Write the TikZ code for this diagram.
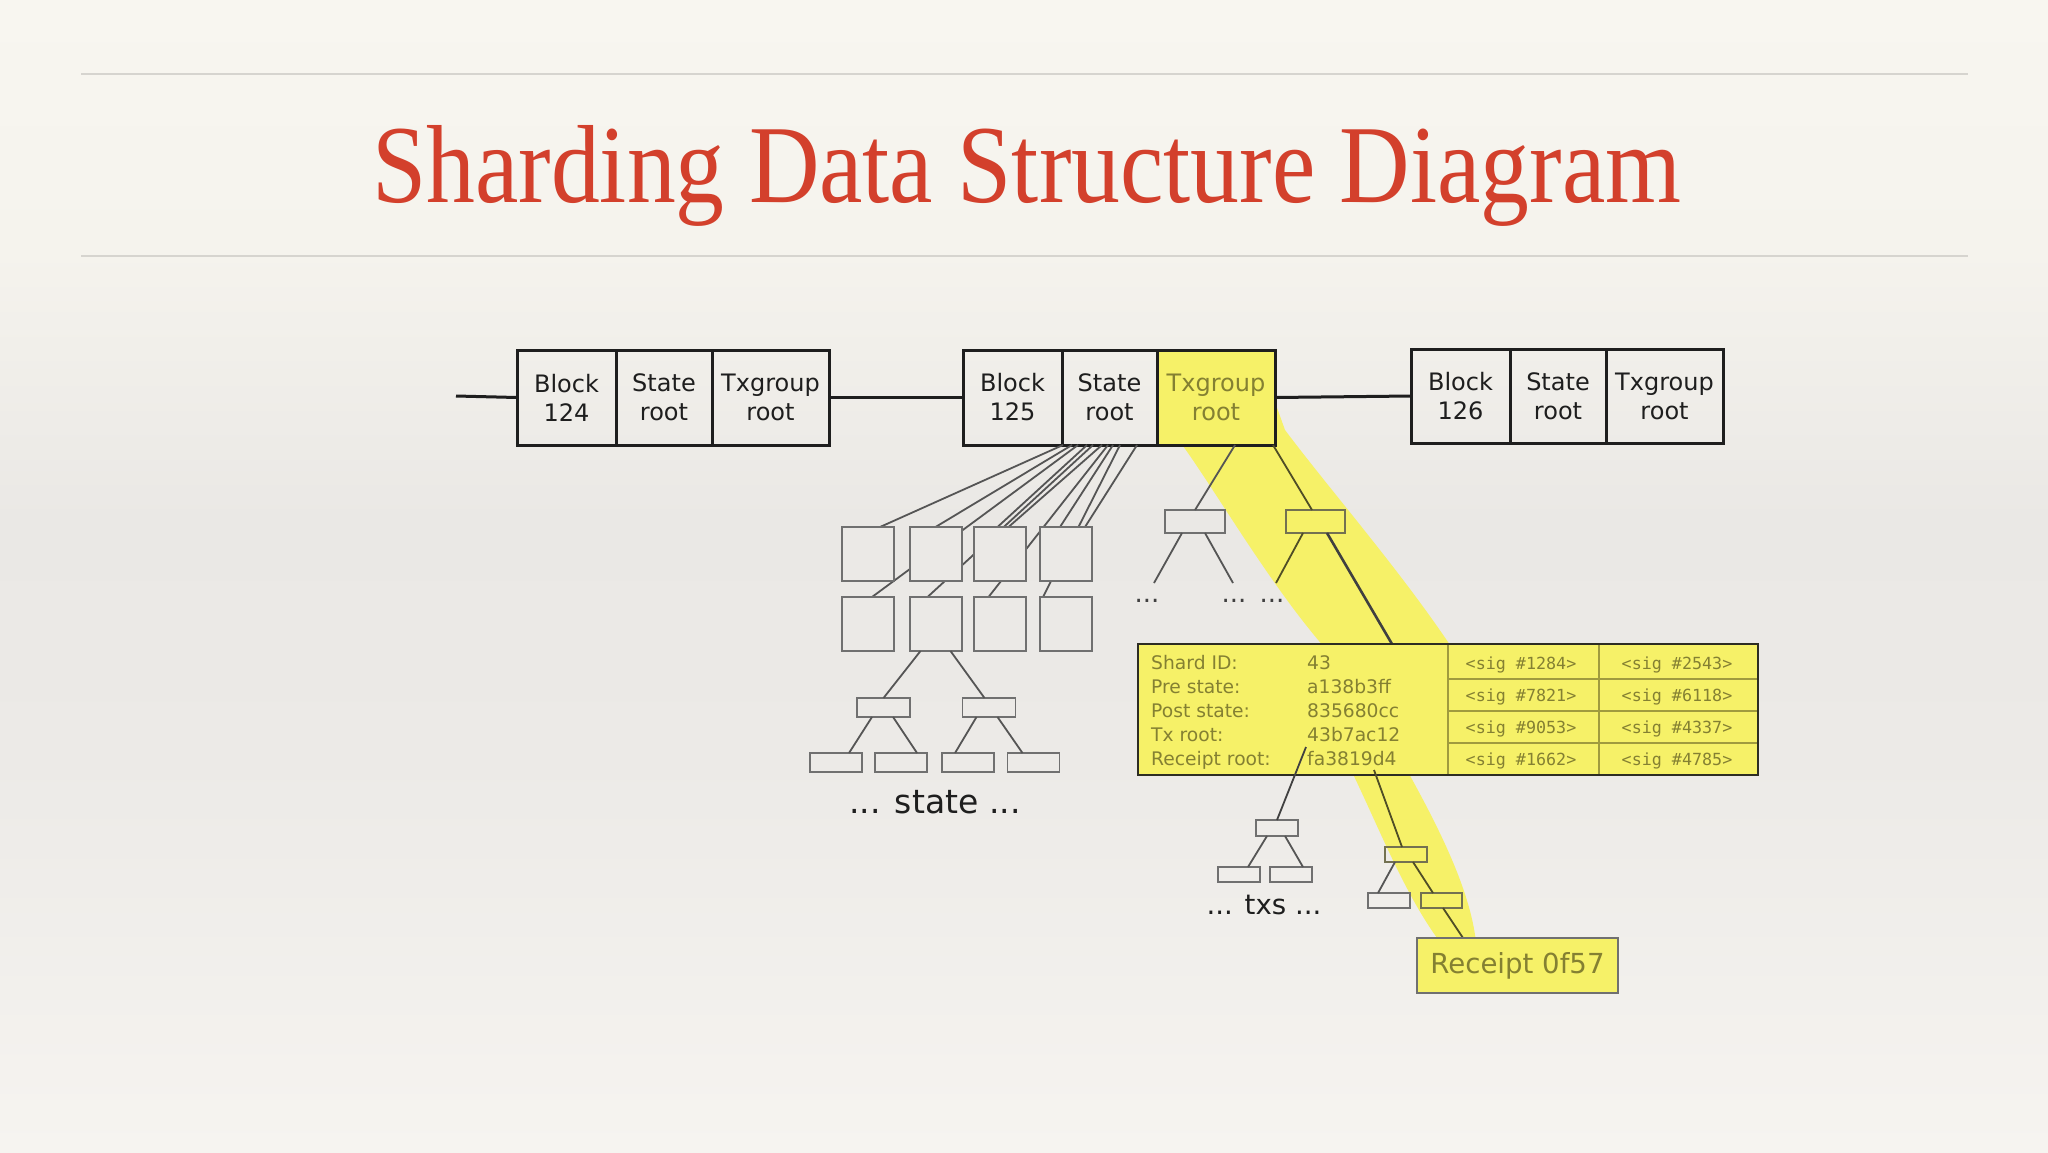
\documentclass[tikz,border=0pt]{standalone}
\usepackage{graphicx}
\usepackage{fontspec}
\newfontfamily\djs{DejaVu Sans}
\newfontfamily\djmono{DejaVu Sans Mono}
\newfontfamily\ttlfont{Liberation Serif}
\usetikzlibrary{calc}
\definecolor{bgA}{RGB}{248,246,240}
\definecolor{bgB}{RGB}{245,243,237}
\definecolor{bgC}{RGB}{234,232,229}
\definecolor{bgD}{RGB}{236,234,231}
\definecolor{bgE}{RGB}{246,244,240}
\definecolor{rulec}{RGB}{214,212,207}
\definecolor{titlered}{RGB}{211,64,44}
\definecolor{ink}{RGB}{30,30,30}
\definecolor{treeline}{RGB}{85,85,85}
\definecolor{boxline}{RGB}{112,112,112}
\definecolor{hiY}{RGB}{246,241,104}
\definecolor{olive}{RGB}{132,128,50}
\definecolor{gridolive}{RGB}{160,155,62}
\definecolor{sqfill}{RGB}{235,233,230}
\definecolor{sbborder}{RGB}{45,45,35}
\definecolor{mline}{RGB}{80,78,38}
\begin{document}
\begin{tikzpicture}[x=1pt,y=-1pt,
  cell/.style={draw=ink,line width=3pt,inner sep=0pt,outer sep=0pt,minimum height=95pt,align=center,font=\djs\fontsize{24}{29}\selectfont,text=ink},
  chain/.style={draw=ink,line width=3pt},
  tline/.style={draw=treeline,line width=1.8pt},
  yline/.style={draw=mline,line width=1.8pt},
  sqshape/.style={inner sep=0pt,outer sep=0pt,minimum width=52pt,minimum height=54pt},
  sqdraw/.style={draw=boxline,line width=2pt,fill=sqfill},
  smallbox/.style={draw=boxline,line width=1.8pt,inner sep=0pt,outer sep=0pt,minimum width=52pt,minimum height=19pt},
  dots/.style={anchor=base,inner sep=0pt,font=\djs\fontsize{26}{30}\selectfont,text=ink!85},
  sdtext/.style={anchor=base west,inner sep=0pt,font=\djs\fontsize{18.7}{22}\selectfont,text=olive},
  sigtext/.style={anchor=base,inner sep=0pt,font=\djmono\fontsize{16.7}{20}\selectfont,text=olive},
  biglabel/.style={anchor=base,inner sep=0pt,text=ink},
  grid/.style={draw=gridolive,line width=1.5pt}]
\useasboundingbox (0,0) rectangle (2048,1152);
% background
\fill[top color=bgA,bottom color=bgB] (0,0) rectangle (2048,251);
\fill[top color=bgB,bottom color=bgC] (0,250) rectangle (2048,521);
\fill[top color=bgC,bottom color=bgD] (0,520) rectangle (2048,761);
\fill[top color=bgD,bottom color=bgE] (0,760) rectangle (2048,1152);
\draw[rulec,line width=1.5pt] (81,74) -- (1968,74);
\draw[rulec,line width=1.5pt] (81,256) -- (1968,256);
% highlight bands
\fill[hiY] (1183,446) -- (1276,446) -- (1276,405) -- (1285,430)
  .. controls (1330,490) and (1400,570) .. (1452,648) -- (1325,648)
  .. controls (1270,585) and (1215,490) .. (1183,446) -- cycle;
\fill[hiY] (1352,772) .. controls (1380,830) and (1405,895) .. (1440,942)
  -- (1476,942) .. controls (1470,890) and (1440,830) .. (1408,772) -- cycle;
% title
\node[anchor=base west,inner sep=0pt,text=titlered] (title) at (372,202)
  {\resizebox*{1309pt}{101pt}{\ttlfont\fontsize{100}{110}\selectfont Sharding Data Structure Diagram}};
% blocks
\node[cell,minimum width=99pt] (b124a) at (566.5,397.5) {Block\\124};
\node[cell,minimum width=96pt] (b124b) at (664,397.5) {State\\root};
\node[cell,minimum width=117pt] (b124c) at (770.5,397.5) {Txgroup\\root};
\node[cell,minimum width=99pt] (b125a) at (1012.5,397.5) {Block\\125};
\node[cell,minimum width=95pt] (b125b) at (1109.5,397.5) {State\\root};
\node[cell,minimum width=118pt,fill=hiY,text=olive] (b125c) at (1216,397.5) {Txgroup\\root};
\node[cell,minimum width=99pt,minimum height=94pt] (b126a) at (1460.5,396) {Block\\126};
\node[cell,minimum width=96pt,minimum height=94pt] (b126b) at (1558,396) {State\\root};
\node[cell,minimum width=117pt,minimum height=94pt] (b126c) at (1664.5,396) {Txgroup\\root};
\coordinate (c0) at (456,396);
\draw[chain] (c0) -- (b124a.west);
\draw[chain] (b124c.east) -- (b125a.west);
\draw[chain] (b125c.east) -- (b126a.west);
% state squares (placed)
\node[sqshape] (sq1) at (868,554) {};
\node[sqshape] (sq2) at (935.5,554) {};
\node[sqshape] (sq3) at (999.5,554) {};
\node[sqshape] (sq4) at (1066,554) {};
\node[sqshape] (sq5) at (868,624) {};
\node[sqshape] (sq6) at (935.5,624) {};
\node[sqshape] (sq7) at (999.5,624) {};
\node[sqshape] (sq8) at (1066,624) {};
% fan lines from state root
\foreach \ox/\tg/\tx in {1/sq1/38, 10/sq2/26, 16/sq5/30, 25/sq3/24, 31/sq6/18, 40/sq3/35, 46/sq7/15, 51/sq4/20, 58/sq8/3, 75/sq4/45}
  \draw[tline] ([xshift=\ox pt]b125b.south west) -- ([xshift=\tx pt]\tg.north west);
\foreach \i in {1,...,8}
  \draw[sqdraw] (sq\i.north west) rectangle (sq\i.south east);
% state subtree
\node[smallbox,minimum width=53pt] (sr1) at (883.5,707.5) {};
\node[smallbox,minimum width=53pt] (sr2) at (989,707.5) {};
\node[smallbox] (l1) at (836,762.5) {};
\node[smallbox] (l2) at (901,762.5) {};
\node[smallbox] (l3) at (968,762.5) {};
\node[smallbox] (l4) at (1033.5,762.5) {};
\draw[tline] ([xshift=11pt]sq6.south west) -- (sr1.north);
\draw[tline] ([xshift=41pt]sq6.south west) -- ([xshift=22pt]sr2.north west);
\draw[tline] ([xshift=15pt]sr1.south west) -- ([xshift=39pt]l1.north west);
\draw[tline] ([xshift=36pt]sr1.south west) -- ([xshift=42pt]l2.north west);
\draw[tline] ([xshift=14pt]sr2.south west) -- ([xshift=13pt]l3.north west);
\draw[tline] ([xshift=35pt]sr2.south west) -- ([xshift=15pt]l4.north west);
\node[biglabel,font=\djs\fontsize{33}{36}\selectfont] (statelbl) at (935,813) {... state ...};
% txgroup subtree
\node[smallbox,minimum width=60pt,minimum height=23pt] (tl) at (1195,521.5) {};
\node[smallbox,draw=mline!80,minimum width=59pt,minimum height=23pt] (tr) at (1315.5,521.5) {};
\draw[tline] ([xshift=78pt]b125c.south west) -- (tl.north);
\draw[yline] ([xshift=116pt]b125c.south west) -- ([xshift=26pt]tr.north west);
\coordinate (d1) at (1154,583);
\coordinate (d2) at (1233,583);
\coordinate (d3) at (1276,583);
\coordinate (sbtop) at (1392,644);
\draw[tline] ([xshift=17pt]tl.south west) -- (d1);
\draw[tline] ([xshift=40pt]tl.south west) -- (d2);
\draw[yline] ([xshift=17pt]tr.south west) -- (d3);
\draw[yline,draw=ink!85,line width=2.6pt] ([xshift=41pt]tr.south west) -- (sbtop);
\node[dots] (dt1) at (1147,602) {...};
\node[dots] (dt2) at (1234,602) {...};
\node[dots] (dt3) at (1272,602) {...};
% txs subtree
\node[smallbox,minimum width=42pt,minimum height=16pt] (tt) at (1277,828) {};
\node[smallbox,minimum width=42pt,minimum height=15pt] (tl1) at (1239,874.5) {};
\node[smallbox,minimum width=42pt,minimum height=15pt] (tl2) at (1291,874.5) {};
\draw[tline] ([xshift=11pt]tt.south west) -- ([xshift=30pt]tl1.north west);
\draw[tline] ([xshift=29pt]tt.south west) -- ([xshift=33pt]tl2.north west);
\node[biglabel,font=\djs\fontsize{27.6}{30}\selectfont] (txslbl) at (1264,914) {... txs ...};
% receipt subtree
\coordinate (rcr) at (1374,770);
\coordinate (rtop) at (1463,938);
\node[smallbox,draw=mline!80,minimum width=42pt,minimum height=15pt] (rt) at (1406,854.5) {};
\node[smallbox,minimum width=42pt,minimum height=15pt] (rl) at (1389,900.5) {};
\node[smallbox,draw=mline!80,minimum width=41pt,minimum height=15pt] (rr) at (1441.5,900.5) {};
\draw[tline] ([xshift=10pt]rt.south west) -- ([xshift=10pt]rl.north west);
\draw[yline] ([xshift=28pt]rt.south west) -- ([xshift=12pt]rr.north west);
\draw[yline] ([xshift=22pt]rr.south west) -- (rtop);
% shard box
\node[draw=sbborder,line width=2.5pt,fill=hiY,inner sep=0pt,outer sep=0pt,minimum width=620pt,minimum height=131pt] (sb) at (1448,709.5) {};
\draw[grid] ([xshift=310pt]sb.north west) -- ([xshift=310pt]sb.south west);
\draw[grid] ([xshift=461pt]sb.north west) -- ([xshift=461pt]sb.south west);
\foreach \yy in {35,67,99}
  \draw[grid] ([xshift=310pt,yshift=-\yy pt]sb.north west) -- ([yshift=-\yy pt]sb.north east);
\draw[draw=sbborder,line width=2.5pt] (sb.north west) rectangle (sb.south east);
\node[sdtext] (k1) at (1151,669) {Shard ID:};
\node[sdtext] (k2) at (1151,693) {Pre state:};
\node[sdtext] (k3) at (1151,717) {Post state:};
\node[sdtext] (k4) at (1151,741) {Tx root:};
\node[sdtext] (k5) at (1151,765) {Receipt root:};
\node[sdtext] (v1) at (1307,669) {43};
\node[sdtext] (v2) at (1307,693) {a138b3ff};
\node[sdtext] (v3) at (1307,717) {835680cc};
\node[sdtext] (v4) at (1307,741) {43b7ac12};
\node[sdtext] (v5) at (1307,765) {fa3819d4};
\node[sigtext] (s11) at (1521,669) {<sig \#1284>};
\node[sigtext] (s12) at (1677,669) {<sig \#2543>};
\node[sigtext] (s21) at (1521,701) {<sig \#7821>};
\node[sigtext] (s22) at (1677,701) {<sig \#6118>};
\node[sigtext] (s31) at (1521,733) {<sig \#9053>};
\node[sigtext] (s32) at (1677,733) {<sig \#4337>};
\node[sigtext] (s41) at (1521,765) {<sig \#1662>};
\node[sigtext] (s42) at (1677,765) {<sig \#4785>};
\coordinate (txr) at (1306,747);
\draw[tline,draw=ink!85] (txr) -- (tt.north);
\draw[yline] (rcr) -- ([xshift=17pt]rt.north west);
% receipt box
\node[draw=boxline,line width=1.5pt,fill=hiY,inner sep=0pt,outer sep=0pt,minimum width=201pt,minimum height=55pt,font=\djs\fontsize{27.6}{30}\selectfont,text=olive] (rcpt) at (1517.5,965.5) {Receipt 0f57};
\end{tikzpicture}
\end{document}
